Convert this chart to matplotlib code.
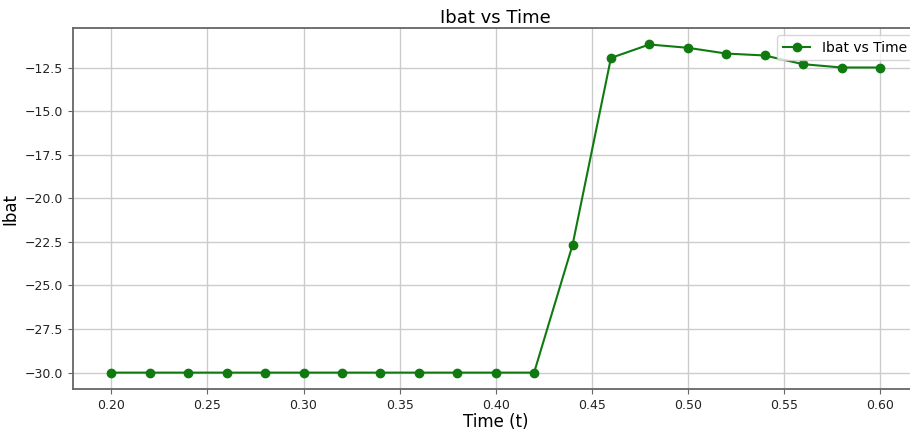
import matplotlib
matplotlib.use("Agg")
import matplotlib.pyplot as plt

time = [0.20, 0.22, 0.24, 0.26, 0.28, 0.30, 0.32, 0.34, 0.36, 0.38, 0.40, 0.42,
        0.44, 0.46, 0.48, 0.50, 0.52, 0.54, 0.56, 0.58, 0.60]
ibat = [-30.0, -30.0, -30.0, -30.0, -30.0, -30.0, -30.0, -30.0, -30.0, -30.0, -30.0, -30.0,
        -22.68, -11.95, -11.18, -11.37, -11.70, -11.81, -12.31, -12.50, -12.50]

fig = plt.figure(figsize=(9.1, 4.32), dpi=100)
ax = fig.add_axes([0.0802, 0.0995, 0.929, 0.8355])
ax.plot(time, ibat, marker='o', color='#107a10', label='Ibat vs Time', markersize=6, linewidth=1.5)
ax.set_title('Ibat vs Time', fontsize=13, pad=4)
ax.set_xlabel('Time (t)', fontsize=12, labelpad=1)
ax.set_ylabel('Ibat', fontsize=12)
ax.grid(True, color='#cccccc', linewidth=1.0)
for s in ax.spines.values():
    s.set_color('#666666')
    s.set_linewidth(1.3)
ax.tick_params(labelsize=9, color='#666666', labelcolor='#222222')
ax.legend(loc='upper right', fontsize=10, bbox_to_anchor=(1.001, 1.0))
fig.savefig('out.png', dpi=100)
